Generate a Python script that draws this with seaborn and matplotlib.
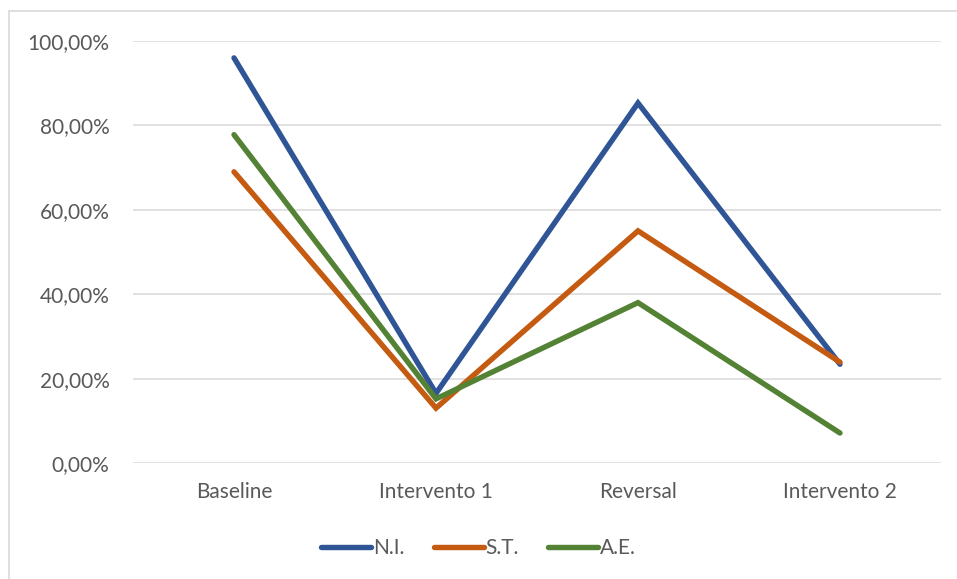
import matplotlib
matplotlib.use("Agg")
import matplotlib.pyplot as plt
from matplotlib.lines import Line2D
from matplotlib.ticker import FuncFormatter
import pandas as pd
import seaborn as sns

# Phases of the study and percentage scores per subject
phases = ["Baseline", "Intervento 1", "Reversal", "Intervento 2"]
ni_values = [0.96, 0.165, 0.853, 0.234]
st_values = [0.69, 0.13, 0.55, 0.239]
ae_values = [0.778, 0.152, 0.38, 0.071]
series_names = ["N.I.", "S.T.", "A.E."]
series_colors = ["#2F5597", "#C55A11", "#548235"]

rows = []
for name, vals in zip(series_names, [ni_values, st_values, ae_values]):
    for phase, v in zip(phases, vals):
        rows.append({"Fase": phase, "Valore": v, "Soggetto": name})
df = pd.DataFrame(rows)

sns.set_theme(style="white")
plt.rcParams["font.family"] = ["Lato", "DejaVu Sans"]

fig = plt.figure(figsize=(9.57, 5.79), dpi=100)
ax = fig.add_axes([133 / 957, 1 - 463 / 579, 808 / 957, 422 / 579])

sns.lineplot(data=df, x="Fase", y="Valore", hue="Soggetto",
             hue_order=series_names, palette=series_colors,
             sort=False, linewidth=3.9, ax=ax, legend=False,
             solid_capstyle="round", solid_joinstyle="miter")

ax.set_xlim(-0.5, len(phases) - 0.5)
ax.set_ylim(0, 1.0)
ax.set_yticks([0, 0.2, 0.4, 0.6, 0.8, 1.0])
ax.yaxis.set_major_formatter(FuncFormatter(lambda v, _: f"{v * 100:.2f}%".replace(".", ",")))
ax.set_xlabel("")
ax.set_ylabel("")
for s in ax.spines.values():
    s.set_visible(False)
ax.grid(axis="y", color="#D9D9D9", linewidth=1.1)
ax.set_axisbelow(True)
ax.tick_params(axis="both", length=0, labelsize=15, colors="#595959")
ax.tick_params(axis="y", pad=17)
ax.tick_params(axis="x", pad=14)

handles = [Line2D([0], [0], color=c, linewidth=3.9, solid_capstyle="round") for c in series_colors]
fig.legend(handles, series_names, loc="center", bbox_to_anchor=(0.5, 1 - 548 / 579),
           ncol=3, frameon=False, fontsize=15, handlelength=2.4, handletextpad=0.1,
           columnspacing=1.4, labelcolor="#595959")

# Chart area border
fig.add_artist(Line2D([8.5 / 957, 8.5 / 957], [0, 1 - 11 / 579], color="#D9D9D9",
                      linewidth=1.2, transform=fig.transFigure))
fig.add_artist(Line2D([8.5 / 957, 1], [1 - 11 / 579, 1 - 11 / 579], color="#D9D9D9",
                      linewidth=1.2, transform=fig.transFigure))

fig.savefig("out.png", dpi=100, facecolor="white")
